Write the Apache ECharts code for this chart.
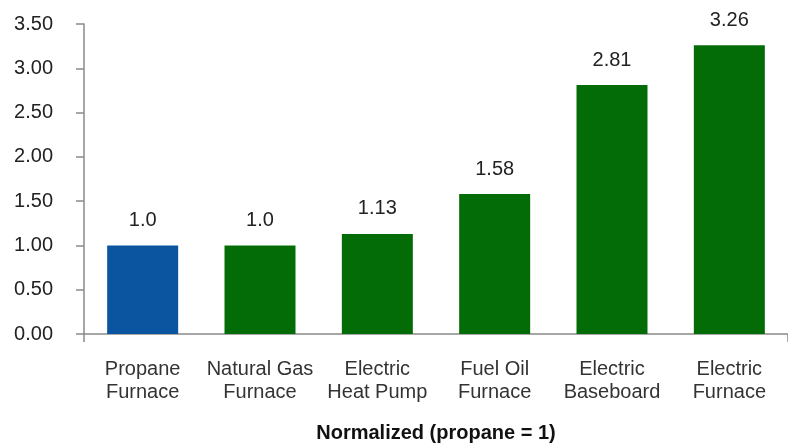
<!DOCTYPE html>
<html><head><meta charset="utf-8">
<script src="https://cdn.jsdelivr.net/npm/echarts@6/dist/echarts.min.js"></script>
<style>html,body{margin:0;padding:0;background:#fff}#c{width:788px;height:445px}</style>
</head><body><div id="c"></div>
<script>
const categories = ['Propane\nFurnace', 'Natural Gas\nFurnace', 'Electric\nHeat Pump', 'Fuel Oil\nFurnace', 'Electric\nBaseboard', 'Electric\nFurnace'];
const values = [1.0, 1.0, 1.13, 1.58, 2.81, 3.26];
const valueLabels = ['1.0', '1.0', '1.13', '1.58', '2.81', '3.26'];
const barColors = ['#0b54a0', '#046c06', '#046c06', '#046c06', '#046c06', '#046c06'];
const axisName = 'Normalized (propane = 1)';

const FONT = '"Liberation Sans", Arial, sans-serif';
const chart = echarts.init(document.getElementById('c'));
chart.setOption({
  animation: false,
  grid: { left: 84, right: 0, top: 24, bottom: 111, containLabel: false, outerBoundsMode: 'none' },
  xAxis: {
    type: 'category',
    data: categories,
    boundaryGap: true,
    axisLine: { lineStyle: { color: '#8a8a8a', width: 1.5 } },
    axisTick: { show: true, interval: (i) => i === 0, length: 8, lineStyle: { color: '#8a8a8a', width: 1.5 } },
    axisLabel: { color: '#333', fontFamily: FONT, fontSize: 20, lineHeight: 23, margin: 24, interval: 0 },
    name: axisName,
    nameLocation: 'middle',
    nameGap: 89,
    nameTextStyle: { color: '#111', fontFamily: FONT, fontSize: 20, fontWeight: 'bold' }
  },
  yAxis: {
    type: 'value',
    min: 0, max: 3.5, interval: 0.5,
    axisLine: { show: true, lineStyle: { color: '#8a8a8a', width: 1.5 } },
    axisTick: { show: true, length: 8, lineStyle: { color: '#8a8a8a', width: 1.5 } },
    splitLine: { show: false },
    axisLabel: { color: '#222', fontFamily: FONT, fontSize: 20, margin: 31, formatter: (v) => v.toFixed(2) }
  },
  series: [{
    type: 'bar',
    barWidth: 71,
    data: values.map((v, i) => ({ value: v, itemStyle: { color: barColors[i] } })),
    label: {
      show: true, position: 'top', distance: 15,
      color: '#222', fontFamily: FONT, fontSize: 20,
      formatter: (p) => valueLabels[p.dataIndex]
    }
  }]
});
</script></body></html>
